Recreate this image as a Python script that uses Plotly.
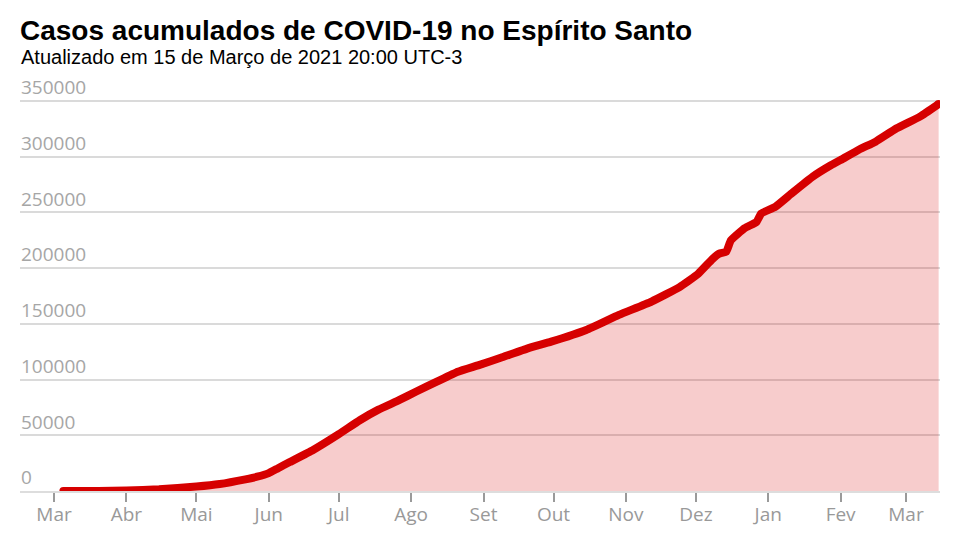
import plotly.graph_objects as go

# Data (cumulative COVID-19 cases, Espírito Santo)
dates = [
    "2020-03-05", "2020-03-20", "2020-04-01", "2020-04-15", "2020-05-01", "2020-05-11",
    "2020-05-22", "2020-05-27", "2020-06-01", "2020-06-05", "2020-06-10", "2020-06-20",
    "2020-07-01", "2020-07-10", "2020-07-18", "2020-07-27", "2020-08-03", "2020-08-12",
    "2020-08-21", "2020-08-30", "2020-09-09", "2020-09-20", "2020-09-30", "2020-10-15",
    "2020-10-29", "2020-11-12", "2020-11-24", "2020-12-02", "2020-12-08", "2020-12-11",
    "2020-12-14", "2020-12-16", "2020-12-22", "2020-12-27", "2020-12-29", "2021-01-04",
    "2021-01-11", "2021-01-20", "2021-01-28", "2021-02-01", "2021-02-09", "2021-02-16",
    "2021-02-25", "2021-03-07", "2021-03-15",
]
cases = [
    1, 100, 500, 1500, 4000, 6300,
    10500, 12800, 16000, 20500, 26000, 36800,
    51000, 63500, 73000, 81700, 89100, 98100,
    107000, 113000, 120000, 128000, 134000, 144500,
    158000, 170000, 183000, 195000, 208000, 213000,
    214700, 225000, 236000, 241600, 249000, 255000,
    267000, 282000, 292500, 297000, 306500, 313500,
    325500, 336000, 347300,
]

month_ticks = [
    "2020-03-01", "2020-04-01", "2020-05-01", "2020-06-01", "2020-07-01", "2020-08-01",
    "2020-09-01", "2020-10-01", "2020-11-01", "2020-12-01", "2021-01-01", "2021-02-01",
    "2021-03-01",
]
month_labels = ["Mar", "Abr", "Mai", "Jun", "Jul", "Ago", "Set", "Out", "Nov", "Dez",
                "Jan", "Fev", "Mar"]
y_ticks = [0, 50000, 100000, 150000, 200000, 250000, 300000, 350000]

title_text = "Casos acumulados de COVID-19 no Espírito Santo"
subtitle_text = "Atualizado em 15 de Março de 2021 20:00 UTC-3"

RED = "#d60000"
FONT_TITLE = "Liberation Sans, Arial, sans-serif"
Y_RANGE = [0, 384100]

fig = go.Figure()
fig.add_trace(go.Scatter(
    x=dates, y=cases, mode="lines",
    line=dict(color=RED, width=8, shape="spline", smoothing=0.4),
    fill="tozeroy", fillcolor="rgba(214,0,0,0.2)",
    hoverinfo="x+y", showlegend=False,
))
# round end caps (drawn on the overlaying axis that carries the labels; same range)
fig.add_trace(go.Scatter(
    x=[dates[0], dates[-1]], y=[cases[0], cases[-1]], mode="markers",
    marker=dict(color=RED, size=8), showlegend=False, hoverinfo="skip",
    yaxis="y2",
))

fig.update_layout(
    width=960, height=540,
    margin=dict(l=12, r=28, t=55, b=57),
    paper_bgcolor="white", plot_bgcolor="white",
    title=dict(
        text="<b>" + title_text + "</b>",
        font=dict(family=FONT_TITLE, size=28, color="#000"),
        x=12 / 960, xanchor="left", xref="container",
        y=1 - 12 / 540, yanchor="top", yref="container",
        pad=dict(t=0, b=0, l=0, r=0),
    ),
    annotations=[dict(
        text=subtitle_text, showarrow=False,
        xref="paper", yref="paper", x=0, y=1.0, xanchor="left", yanchor="bottom",
        xshift=-1, yshift=-7,
        font=dict(family=FONT_TITLE, size=20, color="#000"),
    )],
    xaxis=dict(
        type="date",
        range=["2020-02-15 10:00", "2021-03-15 14:00"],
        tickmode="array",
        tickvals=month_ticks, ticktext=month_labels,
        ticks="outside", ticklen=9, tickwidth=2, tickcolor="#9a9a9a",
        tickfont=dict(family="Open Sans", size=19, color="#999999"),
        ticklabelstandoff=-4,
        showgrid=False, showline=True, linecolor="#dddddd", linewidth=2,
        zeroline=False, automargin=False,
    ),
    yaxis=dict(
        range=Y_RANGE,
        tickvals=y_ticks,
        showticklabels=False,
        showgrid=True, gridcolor="#dadada", gridwidth=1.5,
        zeroline=False, showline=False, ticks="", automargin=False,
    ),
    yaxis2=dict(
        range=Y_RANGE, overlaying="y", anchor="free", position=0, side="right",
        tickvals=y_ticks, ticktext=[str(v) for v in y_ticks],
        ticklabelposition="outside top",
        tickfont=dict(family="Open Sans", size=19, color="#a6a6a6"),
        showgrid=False, zeroline=False, showline=False, ticks="",
        automargin=False,
    ),
)

fig.write_html("out.html")
